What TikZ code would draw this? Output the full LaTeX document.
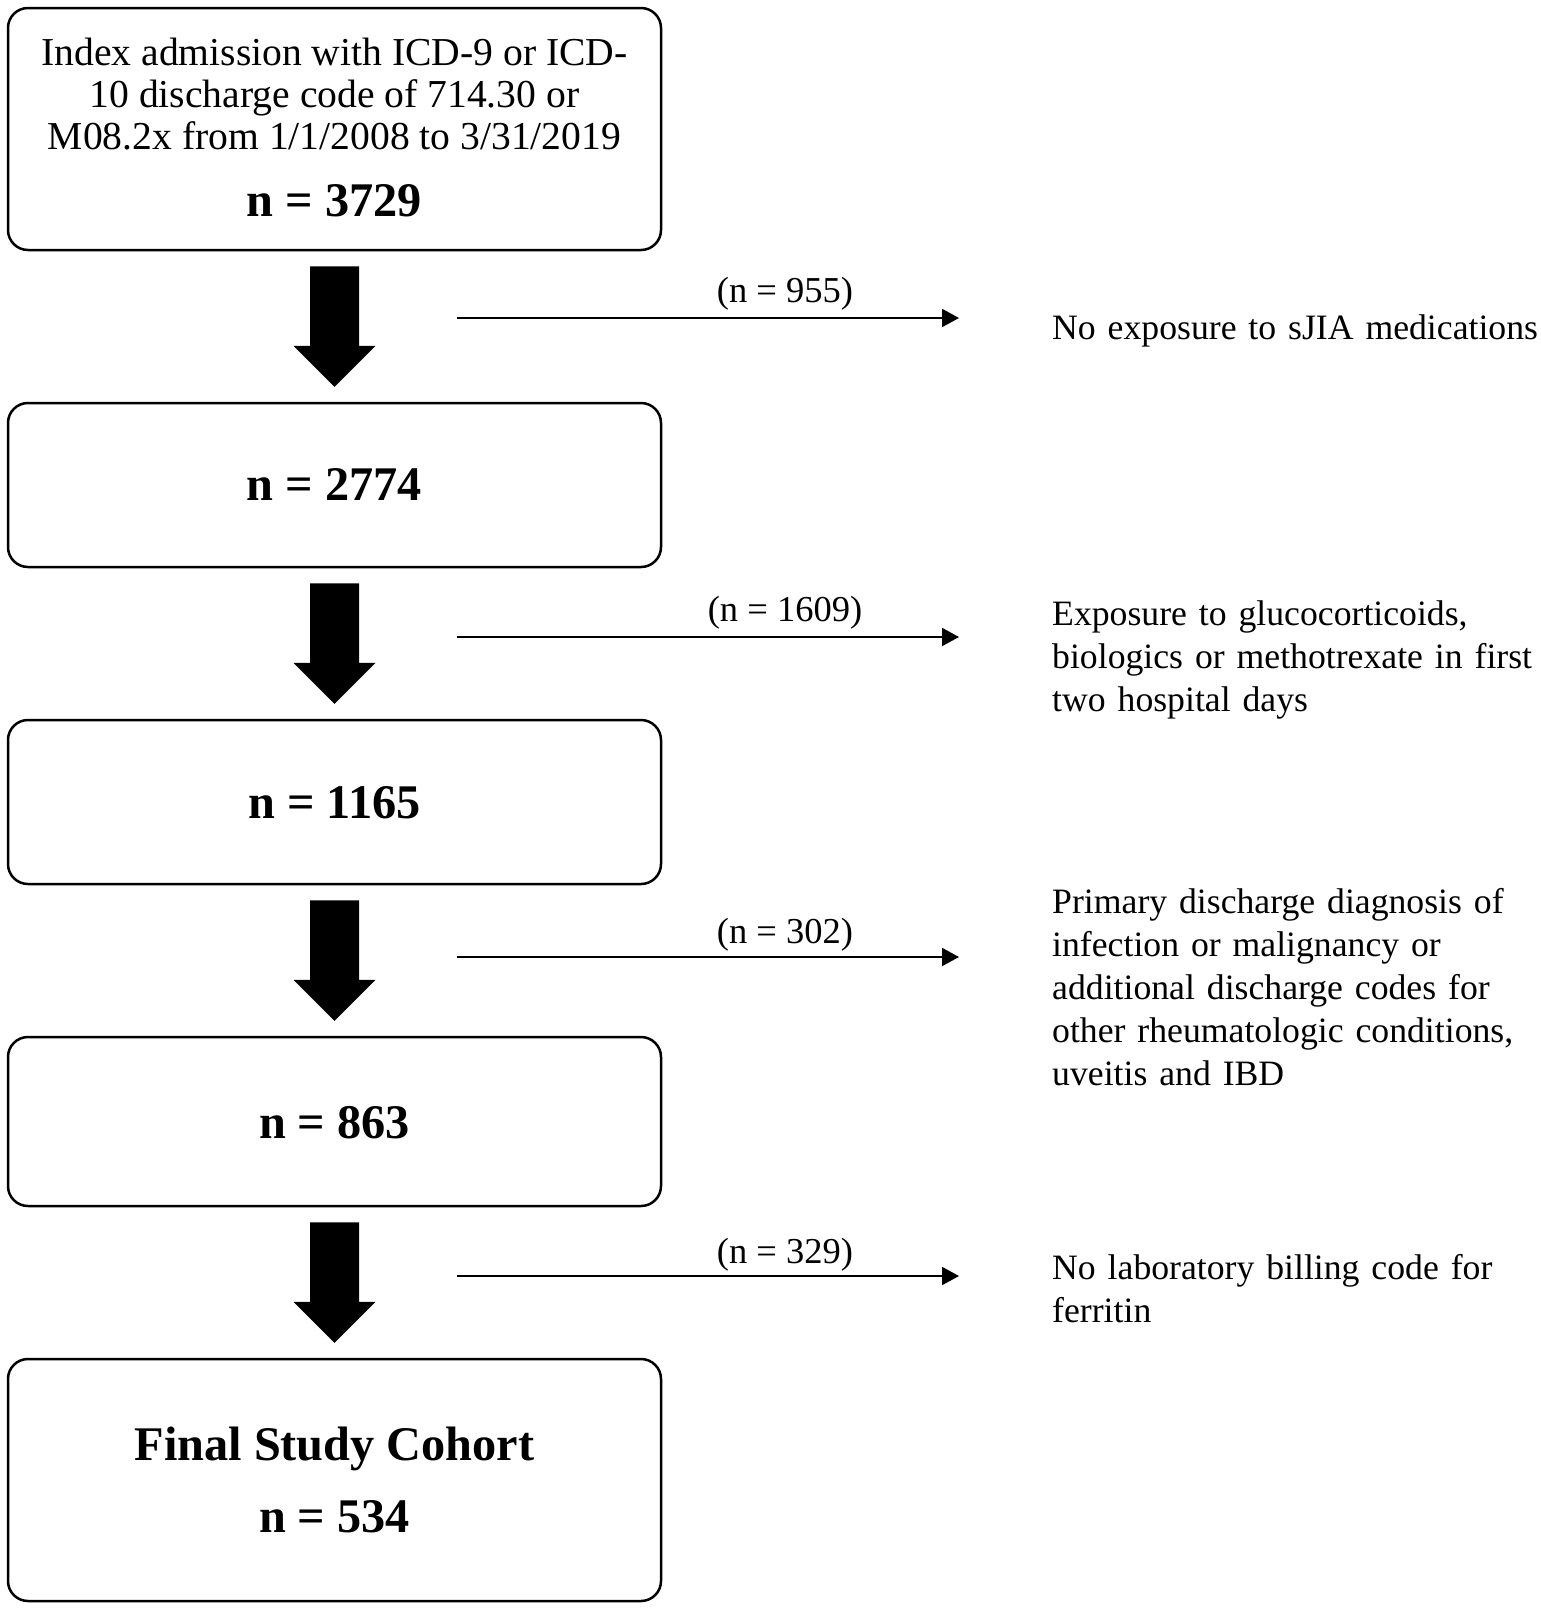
\documentclass[tikz,border=0pt]{standalone}
\usepackage{fontspec}
\setmainfont{Liberation Serif}
\usetikzlibrary{arrows.meta,calc}
\newcommand\blockarrow[2]{%
  \fill ($(#1.south)+(-24.5,15)$) -- ($(#1.south)+(24.5,15)$)
     -- ($(#2.north)+(24.5,-56)$) -- ($(#2.north)+(41,-56)$)
     -- ($(#2.north)+(0,-15)$) -- ($(#2.north)+(-41,-56)$)
     -- ($(#2.north)+(-24.5,-56)$) -- cycle;}
\begin{document}
\begin{tikzpicture}[x=1pt,y=-1pt,
  box/.style={draw, line width=2.5pt, rounded corners=20pt, minimum width=653pt, inner sep=0pt},
  boxtext/.style={align=center, inner sep=0pt, font=\fontsize{39.6}{42}\selectfont},
  num/.style={inner sep=0pt, font=\fontsize{48.3}{52}\selectfont\bfseries},
  side/.style={anchor=north west, align=left, inner sep=0pt, text width=490pt, font=\fontsize{35.7}{43}\selectfont},
  cnt/.style={inner sep=0pt, font=\fontsize{36.5}{40}\selectfont},
  thinarrow/.style={line width=2pt, -{Triangle[length=17pt,width=18pt]}}]
\useasboundingbox (0,0) rectangle (1541,1609);
\fill[white] (0,0) rectangle (1541,1609);
% boxes
\node[box, minimum height=242pt] (b1) at (334.5,129) {};
\node[box, minimum height=164pt] (b2) at (334.5,485) {};
\node[box, minimum height=164pt] (b3) at (334.5,802) {};
\node[box, minimum height=169pt] (b4) at (334.5,1121.5) {};
\node[box, minimum height=242pt] (b5) at (334.5,1480) {};
% box texts
\node[boxtext] (t1) at (334.5,94) {Index admission with ICD-9 or ICD-\\10 discharge code of 714.30 or\\M08.2x from 1/1/2008 to 3/31/2019};
\node[num] (n1) at (334.5,201) {n = 3729};
\node[num] (n2) at (334.5,485) {n = 2774};
\node[num] (n3) at (334.5,803) {n = 1165};
\node[num] (n4) at (334.5,1123) {n = 863};
\node[num] (f5) at (334.5,1449) {Final Study Cohort};
\node[num] (n5) at (334.5,1517) {n = 534};
% block arrows
\blockarrow{b1}{b2}
\blockarrow{b2}{b3}
\blockarrow{b3}{b4}
\blockarrow{b4}{b5}
% exclusion arrows
\coordinate (s1) at (457,318);  \coordinate (e1) at (959,318);
\coordinate (s2) at (457,637);  \coordinate (e2) at (959,637);
\coordinate (s3) at (457,957);  \coordinate (e3) at (959,957);
\coordinate (s4) at (457,1276); \coordinate (e4) at (959,1276);
\draw[thinarrow] (s1) -- (e1);
\draw[thinarrow] (s2) -- (e2);
\draw[thinarrow] (s3) -- (e3);
\draw[thinarrow] (s4) -- (e4);
\node[cnt] (c1) at (785,294) {(n = 955)};
\node[cnt] (c2) at (785,613) {(n = 1609)};
\node[cnt] (c3) at (785,935) {(n = 302)};
\node[cnt] (c4) at (785,1255) {(n = 329)};
% exclusion reasons
\node[side] (r1) at (1052,315) {No exposure to sJIA medications};
\node[side] (r2) at (1052,601) {Exposure to glucocorticoids,\\biologics or methotrexate in first\\two hospital days};
\node[side] (r3) at (1052,888) {Primary discharge diagnosis of\\infection or malignancy or\\additional discharge codes for\\other rheumatologic conditions,\\uveitis and IBD};
\node[side] (r4) at (1052,1254) {No laboratory billing code for\\ferritin};
\end{tikzpicture}
\end{document}
